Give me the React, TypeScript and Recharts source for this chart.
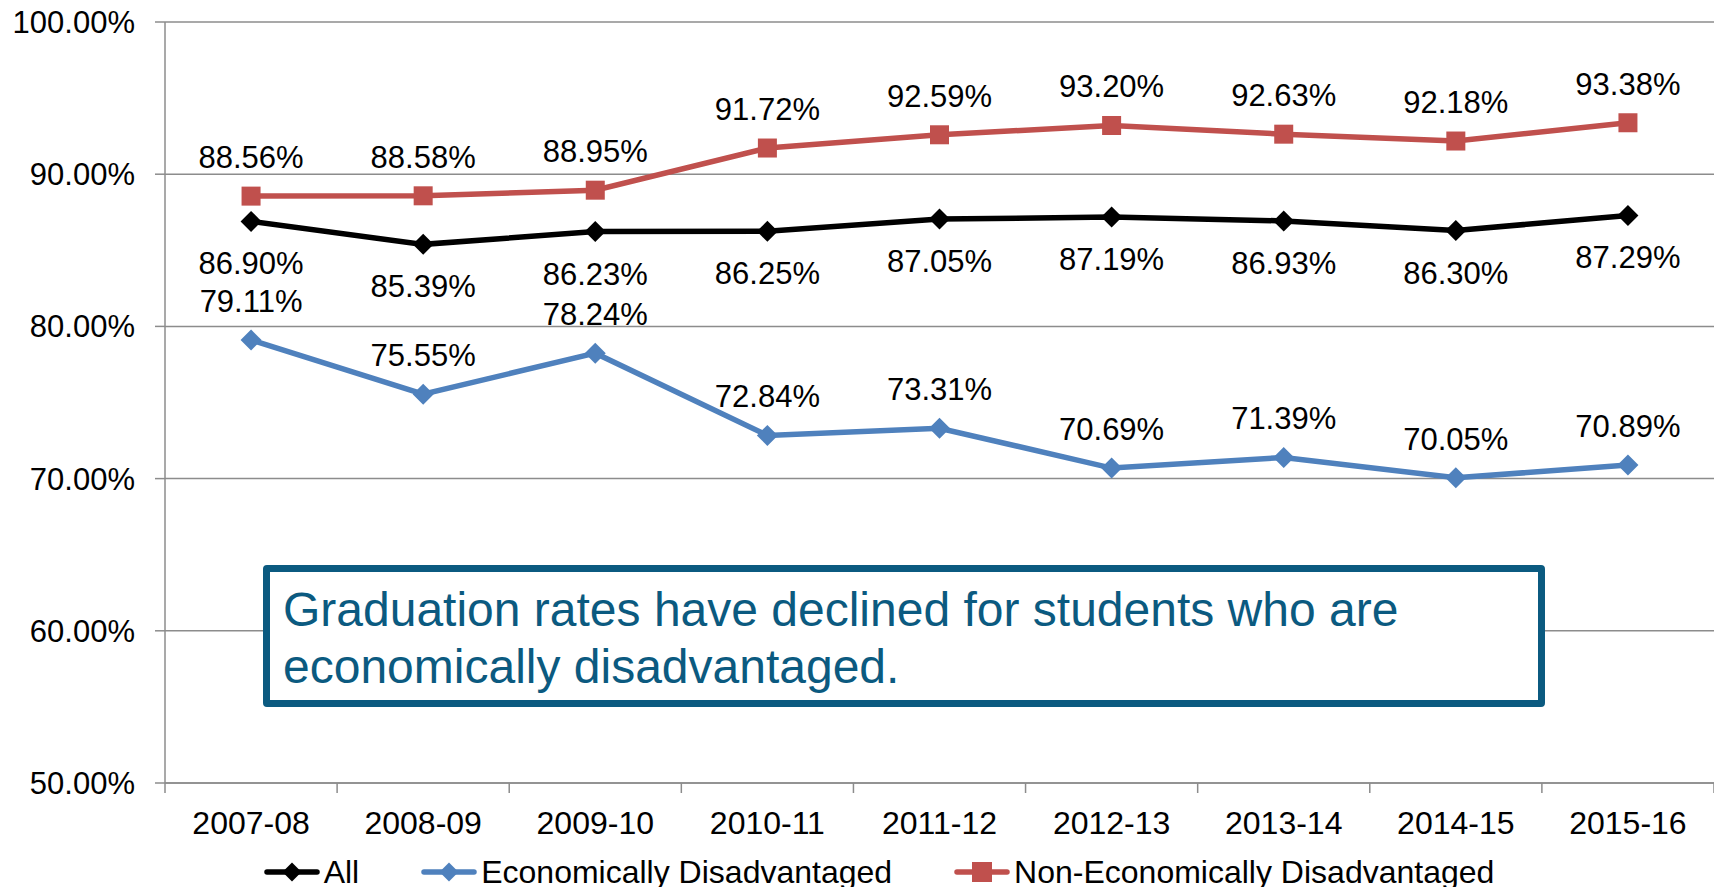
import React from 'react';
import { LineChart, Line, XAxis, YAxis, CartesianGrid, Legend, LabelList } from 'recharts';

const categories = ['2007-08', '2008-09', '2009-10', '2010-11', '2011-12', '2012-13', '2013-14', '2014-15', '2015-16'];
const allValues = [86.9, 85.39, 86.23, 86.25, 87.05, 87.19, 86.93, 86.3, 87.29];
const econValues = [79.11, 75.55, 78.24, 72.84, 73.31, 70.69, 71.39, 70.05, 70.89];
const nonEconValues = [88.56, 88.58, 88.95, 91.72, 92.59, 93.2, 92.63, 92.18, 93.38];
const yTicks = [50, 60, 70, 80, 90, 100];

const seriesInfo = [
  { key: 'all', name: 'All', color: '#000000', shape: 'diamond' },
  { key: 'econ', name: 'Economically Disadvantaged', color: '#4F81BD', shape: 'diamond' },
  { key: 'nonEcon', name: 'Non-Economically Disadvantaged', color: '#C0504D', shape: 'square' },
];

const annotationText = ['Graduation rates have declined for students who are', 'economically disadvantaged.'];

const data = categories.map((c, i) => ({
  year: c,
  all: allValues[i],
  econ: econValues[i],
  nonEcon: nonEconValues[i],
}));

const FONT = '"Liberation Sans", Arial, sans-serif';
const GRID = '#8c8c8c';

const pct = (v: any) => `${Number(v).toFixed(2)}%`;

const makeDot = (color: string, shape: string) => (props: any) => {
  const { cx, cy, index } = props;
  if (cx == null || cy == null) return <g key={index} />;
  if (shape === 'square') {
    return <rect key={index} x={cx - 9.5} y={cy - 9.5} width={19} height={19} fill={color} />;
  }
  return (
    <path
      key={index}
      d={`M${cx},${cy - 10.5} L${cx + 10.5},${cy} L${cx},${cy + 10.5} L${cx - 10.5},${cy} Z`}
      fill={color}
    />
  );
};

const XTick = (props: any) => {
  const { x, y, payload, index, visibleTicksCount, width } = props;
  const half =
    payload && typeof payload.offset === 'number' && payload.offset > 0
      ? payload.offset
      : width / visibleTicksCount / 2;
  return (
    <g>
      <line x1={x - half} x2={x - half} y1={y} y2={y + 10} stroke={GRID} strokeWidth={1.5} />
      {index === visibleTicksCount - 1 && (
        <line x1={x + half} x2={x + half} y1={y} y2={y + 10} stroke={GRID} strokeWidth={1.5} />
      )}
      <text x={x} y={y + 28} dy="0.71em" textAnchor="middle" fill="#000" fontSize={32} fontFamily={FONT}>
        {payload.value}
      </text>
    </g>
  );
};

const LegendContent = () => (
  <div
    style={{
      width: 1714,
      height: 30,
      display: 'flex',
      justifyContent: 'center',
      alignItems: 'center',
      paddingLeft: 44,
      boxSizing: 'border-box',
      fontFamily: FONT,
      fontSize: 32,
      lineHeight: '30px',
      color: '#000',
    }}
  >
    {seriesInfo.map((s, i) => (
      <div key={s.key} style={{ display: 'flex', alignItems: 'center', marginLeft: i === 0 ? 0 : 62 }}>
        <svg width={56} height={24} style={{ marginRight: 4 }}>
          <line x1={3} x2={53} y1={12} y2={12} stroke={s.color} strokeWidth={5.5} strokeLinecap="round" />
          {s.shape === 'square' ? (
            <rect x={18} y={2} width={20} height={20} fill={s.color} />
          ) : (
            <path d="M28,2.5 L37.5,12 L28,21.5 L18.5,12 Z" fill={s.color} />
          )}
        </svg>
        <span>{s.name}</span>
      </div>
    ))}
  </div>
);

export default function App() {
  return (
    <div style={{ position: 'absolute', left: 0, top: 0, width: 1714, height: 887, background: '#fff' }}>
      <LineChart width={1714} height={887} data={data} margin={{ top: 22, right: 0, left: 0, bottom: 0 }}>
        <CartesianGrid vertical={false} stroke={GRID} strokeWidth={1.5} />
        <XAxis
          dataKey="year"
          scale="band"
          height={74}
          tickLine={false}
          tickSize={0}
          tickMargin={0}
          tick={<XTick />}
          axisLine={{ stroke: GRID, strokeWidth: 1.5 }}
          interval={0}
        />
        <YAxis
          width={165}
          domain={[50, 100]}
          ticks={yTicks}
          tickFormatter={pct}
          tickSize={10}
          tickMargin={20}
          tickLine={{ stroke: GRID, strokeWidth: 1.5 }}
          axisLine={{ stroke: GRID, strokeWidth: 1.5 }}
          tick={{ fill: '#000', fontSize: 31, fontFamily: FONT }}
          allowDataOverflow
        />
        <Legend verticalAlign="bottom" height={30} content={<LegendContent />} />
        <Line
          dataKey="all"
          name="All"
          stroke="#000"
          strokeWidth={5.5}
          dot={makeDot('#000', 'diamond')}
          activeDot={false}
          isAnimationActive={false}
        >
          <LabelList dataKey="all" position="bottom" offset={31} formatter={pct} fill="#000" fontSize={31} fontFamily={FONT} />
        </Line>
        <Line
          dataKey="econ"
          name="Economically Disadvantaged"
          stroke="#4F81BD"
          strokeWidth={5.5}
          dot={makeDot('#4F81BD', 'diamond')}
          activeDot={false}
          isAnimationActive={false}
        >
          <LabelList dataKey="econ" position="top" offset={28} formatter={pct} fill="#000" fontSize={31} fontFamily={FONT} />
        </Line>
        <Line
          dataKey="nonEcon"
          name="Non-Economically Disadvantaged"
          stroke="#C0504D"
          strokeWidth={5.5}
          dot={makeDot('#C0504D', 'square')}
          activeDot={false}
          isAnimationActive={false}
        >
          <LabelList dataKey="nonEcon" position="top" offset={28} formatter={pct} fill="#000" fontSize={31} fontFamily={FONT} />
        </Line>
      </LineChart>
      <div
        style={{
          position: 'absolute',
          left: 263,
          top: 565,
          width: 1282,
          height: 142,
          boxSizing: 'border-box',
          border: '7px solid #0B5A80',
          borderRadius: 4,
          background: '#fff',
          color: '#0B5A80',
          fontFamily: FONT,
          fontSize: 48,
          lineHeight: '57px',
          padding: '9px 0 0 13px',
          whiteSpace: 'nowrap',
        }}
      >
        {annotationText.map((t, i) => (
          <div key={i}>{t}</div>
        ))}
      </div>
    </div>
  );
}
